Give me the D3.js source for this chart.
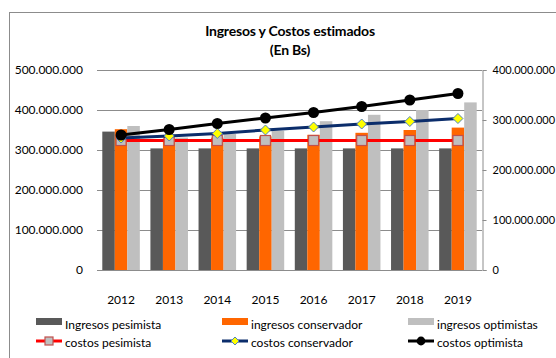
<!DOCTYPE html>
<html>
<head>
<meta charset="utf-8">
<script src="https://cdn.jsdelivr.net/npm/d3@7"></script>
<style>
  html, body { margin: 0; padding: 0; background: #fff; overflow: hidden; }
  svg { display: block; font-family: Lato, "Open Sans", sans-serif; }
</style>
</head>
<body>
<svg id="chart" width="556" height="358"></svg>
<script>
// Years on the category axis
const years = ["2012", "2013", "2014", "2015", "2016", "2017", "2018", "2019"];

// Income (left axis, Bs)
const ingresosPesimista   = [346e6, 304e6, 304e6, 304e6, 304e6, 304e6, 304e6, 304e6];
const ingresosConservador = [352e6, 329e6, 331e6, 334e6, 338e6, 343e6, 350e6, 356e6];
const ingresosOptimistas  = [360e6, 331e6, 340e6, 348e6, 372e6, 388e6, 400e6, 419e6];

// Costs (right axis, Bs)
const costosPesimista   = [259e6, 259e6, 259e6, 259e6, 259e6, 259e6, 259e6, 259e6];
const costosConservador = [264e6, 268e6, 273e6, 280e6, 286e6, 292e6, 297e6, 303e6];
const costosOptimista   = [270e6, 281e6, 293e6, 304e6, 315e6, 327e6, 340e6, 353e6];

// Axis ticks
const leftTicks  = [0, 100e6, 200e6, 300e6, 400e6, 500e6];
const rightTicks = [0, 100e6, 200e6, 300e6, 400e6];

const titleLines = ["Ingresos y Costos estimados", "(En Bs)"];

const barSeries = [
  { name: "Ingresos pesimista",   values: ingresosPesimista,   color: "#595959" },
  { name: "ingresos conservador", values: ingresosConservador, color: "#FF6600" },
  { name: "ingresos optimistas",  values: ingresosOptimistas,  color: "#BFBFBF" }
];
const lineSeries = [
  { name: "costos pesimista",   values: costosPesimista,   color: "#FF0000", marker: "square" },
  { name: "costos conservador", values: costosConservador, color: "#0B2D6B", marker: "diamond" },
  { name: "costos optimista",   values: costosOptimista,   color: "#000000", marker: "circle" }
];

const svg = d3.select("#chart");
const plot = { left: 97, right: 482, top: 70, bottom: 270 };

const fmt = d3.formatLocale({ decimal: ",", thousands: ".", grouping: [3], currency: ["", ""] }).format(",");

// chart frame
svg.append("rect")
  .attr("x", 9.5).attr("y", 12.5)
  .attr("width", 600).attr("height", 400)
  .attr("fill", "#fff").attr("stroke", "#8c8c8c").attr("stroke-width", 1);

// title
svg.append("g").selectAll("text").data(titleLines).join("text")
  .attr("x", 290).attr("y", (d, i) => 36 + i * 19)
  .attr("text-anchor", "middle")
  .attr("font-weight", "bold").attr("font-size", 14)
  .attr("letter-spacing", -0.2)
  .attr("fill", "#000")
  .text(d => d);

const x = d3.scaleBand().domain(years).range([plot.left, plot.right])
  .paddingInner(0.22).paddingOuter(0.11);
const xSub = d3.scaleBand().domain(d3.range(barSeries.length)).range([0, x.bandwidth()]);
const yL = d3.scaleLinear().domain([0, 500e6]).range([plot.bottom, plot.top]);
const yR = d3.scaleLinear().domain([0, 400e6]).range([plot.bottom, plot.top]);

// gridlines
svg.append("g").selectAll("line").data(leftTicks).join("line")
  .attr("x1", plot.left).attr("x2", plot.right)
  .attr("y1", d => Math.round(yL(d)) + 0.5).attr("y2", d => Math.round(yL(d)) + 0.5)
  .attr("stroke", "#8c8c8c").attr("stroke-width", 1);

// left axis labels
const leftAxis = d3.axisLeft(yL).tickValues(leftTicks).tickFormat(fmt).tickSize(0).tickPadding(14);
const gL = svg.append("g").attr("transform", `translate(${plot.left},0)`).call(leftAxis);
gL.select(".domain").remove();
gL.selectAll("text").attr("font-family", "Lato, sans-serif").attr("font-size", 12).attr("fill", "#000");

// bars
barSeries.forEach((s, si) => {
  svg.append("g").selectAll("rect").data(s.values).join("rect")
    .attr("x", (d, i) => x(years[i]) + xSub(si))
    .attr("width", xSub.bandwidth())
    .attr("y", d => yL(d))
    .attr("height", d => yL(0) - yL(d))
    .attr("fill", s.color);
});

// category axis
const bottomAxis = d3.axisBottom(x).tickSize(0).tickPadding(25);
const gB = svg.append("g").attr("transform", `translate(0,${plot.bottom})`).call(bottomAxis);
gB.select(".domain").remove();
gB.selectAll("text").attr("font-family", "Lato, sans-serif").attr("font-size", 12).attr("fill", "#000");
svg.append("line")
  .attr("x1", plot.left).attr("x2", plot.right)
  .attr("y1", plot.bottom + 0.5).attr("y2", plot.bottom + 0.5)
  .attr("stroke", "#8c8c8c");

// right axis
const rightAxis = d3.axisRight(yR).tickValues(rightTicks).tickFormat(fmt).tickSize(4).tickPadding(6);
const gR = svg.append("g").attr("transform", `translate(${plot.right + 0.5},0)`).call(rightAxis);
gR.select(".domain").attr("stroke", "#8c8c8c");
gR.selectAll(".tick line").attr("stroke", "#8c8c8c");
gR.selectAll("text").attr("font-family", "Lato, sans-serif").attr("font-size", 11).attr("fill", "#000");

// marker shapes
function drawMarker(g, type, cx, cy, color, scale) {
  const k = scale || 1;
  if (type === "square") {
    const s = 10 * k;
    g.append("rect").attr("x", cx - s / 2).attr("y", cy - s / 2).attr("width", s).attr("height", s)
      .attr("fill", "#BFBFBF").attr("stroke", "#C0504D").attr("stroke-width", 1.2);
  } else if (type === "diamond") {
    const r = 5 * k;
    g.append("path").attr("d", `M${cx},${cy - r}L${cx + r},${cy}L${cx},${cy + r}L${cx - r},${cy}Z`)
      .attr("fill", "#FFFF00").attr("stroke", "#4F81BD").attr("stroke-width", 1);
  } else {
    g.append("circle").attr("cx", cx).attr("cy", cy).attr("r", 5.5 * k).attr("fill", color);
  }
}

// cost lines
const cx = i => x(years[i]) + x.bandwidth() / 2;
lineSeries.forEach(s => {
  const g = svg.append("g");
  const line = d3.line().x((d, i) => cx(i)).y(d => yR(d));
  g.append("path").datum(s.values).attr("d", line)
    .attr("fill", "none").attr("stroke", s.color).attr("stroke-width", 3);
  s.values.forEach((v, i) => drawMarker(g, s.marker, cx(i), yR(v), s.color));
});

// legend
const legendCols = [36, 222, 408];
const lg = svg.append("g");
barSeries.forEach((s, i) => {
  lg.append("rect").attr("x", legendCols[i]).attr("y", 318).attr("width", 26).attr("height", 7).attr("fill", s.color);
  lg.append("text").attr("x", legendCols[i] + 29).attr("y", 328.5).attr("font-size", 12).text(s.name);
});
lineSeries.forEach((s, i) => {
  const x0 = legendCols[i];
  lg.append("line").attr("x1", x0).attr("x2", x0 + 26).attr("y1", 341).attr("y2", 341)
    .attr("stroke", s.color).attr("stroke-width", 3);
  drawMarker(lg, s.marker, x0 + 13, 341, s.color, 0.8);
  lg.append("text").attr("x", x0 + 29).attr("y", 346.5).attr("font-size", 12).text(s.name);
});
</script>
</body>
</html>
